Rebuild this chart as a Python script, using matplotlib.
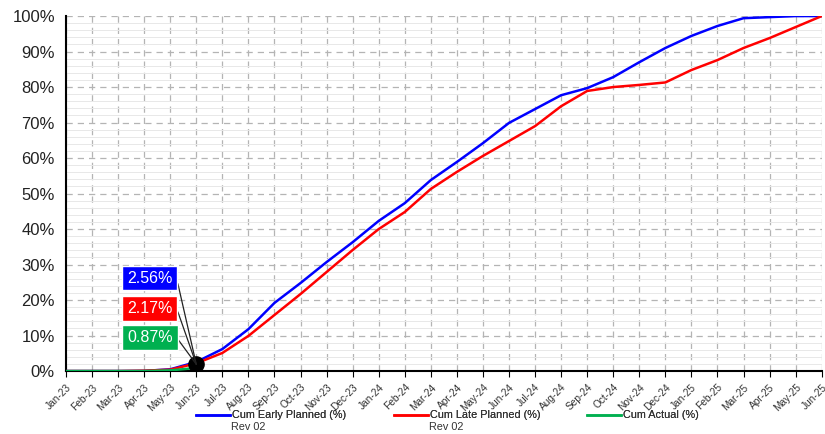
import numpy as np
import matplotlib.pyplot as plt
from matplotlib.ticker import MultipleLocator, FuncFormatter

plt.rcParams['font.family'] = ['Liberation Sans', 'DejaVu Sans']

months = ['Jan-23', 'Feb-23', 'Mar-23', 'Apr-23', 'May-23', 'Jun-23', 'Jul-23', 'Aug-23',
          'Sep-23', 'Oct-23', 'Nov-23', 'Dec-23', 'Jan-24', 'Feb-24', 'Mar-24', 'Apr-24',
          'May-24', 'Jun-24', 'Jul-24', 'Aug-24', 'Sep-24', 'Oct-24', 'Nov-24', 'Dec-24',
          'Jan-25', 'Feb-25', 'Mar-25', 'Apr-25', 'May-25', 'Jun-25']

early = [0, 0, 0, 0.05, 0.5, 2.56, 6.2, 11.8, 19.2, 24.8, 30.7, 36.3, 42.3, 47.3, 53.8,
         58.9, 64.2, 69.9, 73.8, 77.7, 79.7, 82.8, 87.0, 91.0, 94.4, 97.2, 99.4, 99.7,
         100.0, 100.0]
late = [0, 0, 0, 0.1, 0.4, 2.17, 5.1, 9.9, 15.8, 21.7, 27.9, 34.1, 40.0, 44.8, 51.3,
        56.1, 60.6, 64.8, 69.0, 74.6, 78.9, 80.0, 80.6, 81.3, 84.8, 87.6, 91.0, 93.8,
        96.9, 100.0]
actual = [0, 0, 0, 0, 0.2, 0.87]

series = [('Cum Early Planned (%)', 'Rev 02', '#0000FF'),
          ('Cum Late Planned (%)', 'Rev 02', '#FF0000'),
          ('Cum Actual (%)', '', '#00B050')]

x = np.arange(len(months))

fig = plt.figure(figsize=(8.25, 4.34), dpi=100)
ax = fig.add_axes([0.08, 0.145, 0.916, 0.818])

h1, = ax.plot(x, early, color='#0000FF', lw=1.8, zorder=3)
h2, = ax.plot(x, late, color='#FF0000', lw=1.8, zorder=3)
h3, = ax.plot(x[:len(actual)], actual, color='#00B050', lw=1.8, zorder=3)

# marker at data date
cur = len(actual) - 1
ax.scatter([cur], [np.mean([early[cur], late[cur], actual[cur]])], s=120, color='black', zorder=5)

# callouts
boxes = [(early[cur], '#0000FF', 26.2), (late[cur], '#FF0000', 17.7), (actual[cur], '#00B050', 9.4)]
for val, col, ty in boxes:
    ax.annotate('%.2f%%' % val, xy=(cur, 1.9), xytext=(3.22, ty), ha='center', va='center',
                color='white', fontsize=11.5,
                bbox=dict(boxstyle='square,pad=0.3', fc=col, ec='white'),
                arrowprops=dict(arrowstyle='-', color='#222222', lw=0.9, relpos=(1, 0.5),
                                shrinkA=0, shrinkB=0,
                                connectionstyle='arc,angleA=0,armA=4,rad=0'),
                zorder=6)

ax.set_xlim(0, len(months) - 1)
ax.set_ylim(0, 100)
ax.set_xticks(x)
ax.set_xticklabels(months, rotation=45, ha='right', rotation_mode='anchor',
                   fontsize=7.3, color='#333333')
ax.yaxis.set_major_locator(MultipleLocator(10))
ax.yaxis.set_minor_locator(MultipleLocator(2))
ax.yaxis.set_major_formatter(FuncFormatter(lambda v, p: '%d%%' % v))
ax.tick_params(axis='y', labelsize=12, length=0, which='both', colors='#222222', pad=8)
ax.tick_params(axis='x', length=4, width=0.8, direction='out', pad=4)

ax.grid(axis='y', which='minor', color='#e8e8e8', lw=0.7, ls='-')
ax.grid(axis='y', which='major', color='#b4b4b4', lw=0.9, ls=(0, (5, 4)))
ax.grid(axis='x', which='major', color='#b4b4b4', lw=0.9, ls=(0, (5, 4)))
ax.set_axisbelow(True)

for s in ['top', 'right']:
    ax.spines[s].set_visible(False)
ax.spines['left'].set_linewidth(1.5)
ax.spines['bottom'].set_linewidth(1.5)

# legend, one entry per block, with revision note beneath
for (name, rev, col), h, lx in zip(series, [h1, h2, h3], [0.237, 0.477, 0.711]):
    leg = fig.legend([h], [name], loc='center left', bbox_to_anchor=(lx, 0.043),
                     frameon=False, fontsize=7.8, handlelength=3.2, handletextpad=0.15,
                     borderaxespad=0, borderpad=0, labelcolor='#333333')
    fig.add_artist(leg)
    if rev:
        fig.text(lx + 0.043, 0.016, rev, fontsize=7.8, color='#333333', va='center')

fig.savefig('out.png', dpi=100)
